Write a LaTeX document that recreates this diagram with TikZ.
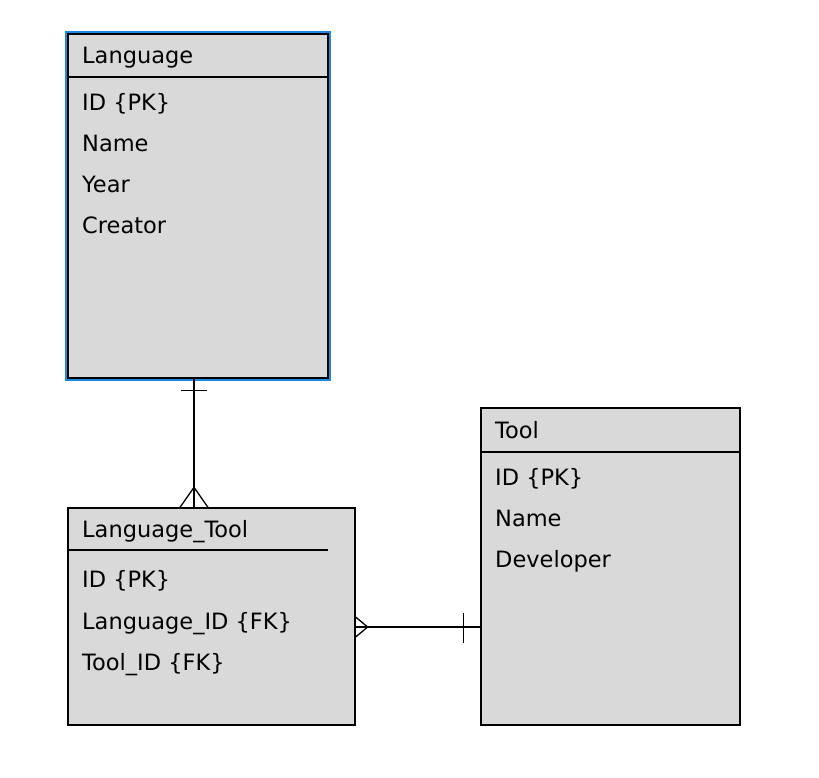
\documentclass[tikz,border=0pt]{standalone}
\usepackage{fontspec}
\setmainfont{DejaVu Sans}
\usetikzlibrary{calc}
\definecolor{boxfill}{HTML}{D9D9D9}
\definecolor{selblue}{HTML}{1E88E5}
\tikzset{
  entity/.style={draw=black, fill=boxfill, line width=1.3pt, inner sep=0pt, rectangle},
  fieldtxt/.style={anchor=base west, inner sep=0pt, font=\fontsize{22.5}{27}\selectfont},
  rel/.style={draw=black, line width=1.3pt},
  sep/.style={draw=black, line width=1.3pt}
}
\begin{document}
\begin{tikzpicture}[x=1pt,y=-1pt]
\useasboundingbox (0,0) rectangle (819,778);
% Language
\node[entity, minimum width=260pt, minimum height=344pt] (lang) at (198,206) {};
\draw[selblue, line width=2.5pt] ([shift={(-1.5pt,1.5pt)}]lang.north west) rectangle ([shift={(1.5pt,-1.5pt)}]lang.south east);
\draw[sep] (lang.north west |- 0,77) coordinate (lsepA) -- (lang.north east |- 0,77) coordinate (lsepB);
\node[fieldtxt] (l0) at (82,63.5) {Language};
\node[fieldtxt] (l1) at (82,110.5) {ID \{PK\}};
\node[fieldtxt] (l2) at (82,151.5) {Name};
\node[fieldtxt] (l3) at (82,192.5) {Year};
\node[fieldtxt] (l4) at (82,233.5) {Creator};
% Language_Tool
\node[entity, minimum width=287pt, minimum height=217pt] (lt) at (211.5,616.5) {};
\draw[sep] (lt.north west |- 0,550) coordinate (ltsepA) -- (328,550) coordinate (ltsepB);
\node[fieldtxt] (t0) at (82,537.5) {Language\_Tool};
\node[fieldtxt] (t1) at (82,587.5) {ID \{PK\}};
\node[fieldtxt] (t2) at (82,629.5) {Language\_ID \{FK\}};
\node[fieldtxt] (t3) at (82,670.5) {Tool\_ID \{FK\}};
% Tool
\node[entity, minimum width=259pt, minimum height=317pt] (tool) at (610.5,566.5) {};
\draw[sep] (tool.north west |- 0,452) coordinate (tsepA) -- (tool.north east |- 0,452) coordinate (tsepB);
\node[fieldtxt] (o0) at (495,438.5) {Tool};
\node[fieldtxt] (o1) at (495,485.5) {ID \{PK\}};
\node[fieldtxt] (o2) at (495,526.5) {Name};
\node[fieldtxt] (o3) at (495,567.5) {Developer};
% connector Language -- Language_Tool
\coordinate (c1a) at ([xshift=-4pt]lang.south);
\coordinate (c1b) at (c1a |- lt.north);
\draw[rel] (c1a) -- (c1b);
\draw[rel] ($(c1a)+(-13,12)$) -- ($(c1a)+(13,12)$);
\draw[rel] ($(c1b)+(-14,0)$) -- ($(c1b)+(0,-20)$) -- ($(c1b)+(14,0)$);
% connector Language_Tool -- Tool
\coordinate (c2a) at (lt.east |- 0,627);
\coordinate (c2b) at (tool.west |- c2a);
\draw[rel] (c2a) -- (c2b);
\draw[rel] ($(c2a)+(0,-10)$) -- ($(c2a)+(12,0)$) -- ($(c2a)+(0,10)$);
\draw[rel] ($(c2b)+(-17,-14)$) -- ($(c2b)+(-17,16)$);
\end{tikzpicture}
\end{document}
